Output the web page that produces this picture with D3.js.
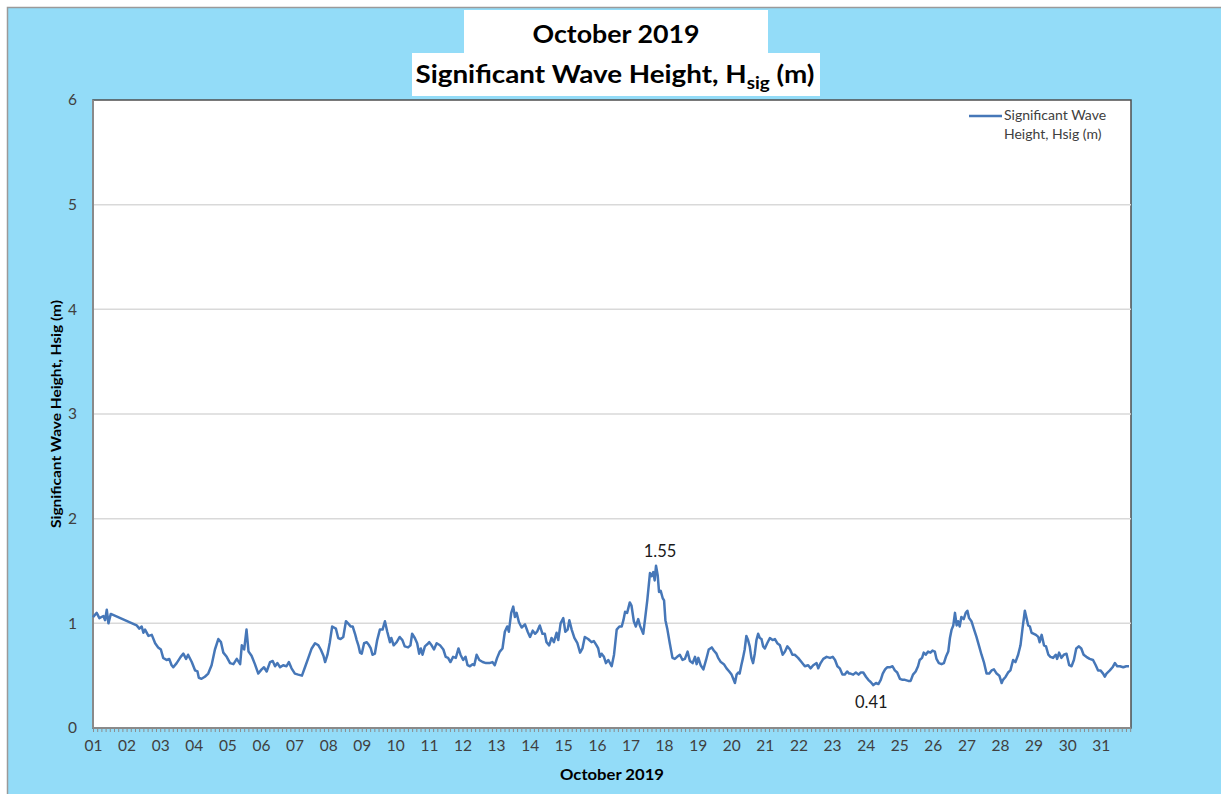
<!DOCTYPE html>
<html>
<head>
<meta charset="utf-8">
<script src="https://cdn.jsdelivr.net/npm/d3@7"></script>
<style>
  html, body { margin: 0; padding: 0; background: #ffffff; }
  svg { display: block; }
  text { font-family: Lato, "Open Sans", "Liberation Sans", sans-serif; }
</style>
</head>
<body>
<div id="chart"></div>
<script>
// ---- DATA ----
const chartTitle = "October 2019";
const chartSubtitle = "Significant Wave Height, H";
const seriesName = "Significant Wave Height, Hsig (m)";
const xAxisTitle = "October 2019";
const yAxisTitle = "Significant Wave Height, Hsig (m)";
const yTicks = [0, 1, 2, 3, 4, 5, 6];

// Time of each reading: days elapsed since 1 Oct 2019 00:00
const dayOffset = [
  0.00,0.11,0.19,0.31,0.36,0.41,0.46,0.53,1.30,1.38,1.45,1.50,1.55,1.65,1.75,1.85,1.94,
  2.02,2.09,2.19,2.27,2.34,2.39,2.49,2.61,2.69,2.77,2.83,2.94,3.04,3.11,3.15,3.23,3.33,
  3.43,3.53,3.63,3.73,3.81,3.88,3.98,4.08,4.18,4.28,4.38,4.43,4.50,4.57,4.63,4.72,4.82,
  4.92,5.02,5.09,5.17,5.27,5.35,5.42,5.49,5.57,5.66,5.76,5.83,5.91,6.01,6.11,6.22,6.31,
  6.41,6.51,6.61,6.71,6.78,6.86,6.91,6.98,7.05,7.12,7.23,7.30,7.37,7.45,7.53,7.62,
  7.67,7.73,7.80,7.85,7.90,7.95,8.00,8.07,8.15,8.22,8.27,8.32,8.39,8.46,8.54,8.62,8.69,
  8.76,8.84,8.88,8.95,9.04,9.13,9.21,9.28,9.38,9.45,9.50,9.58,9.65,9.71,9.76,9.81,9.88,
  9.95,10.01,10.08,10.15,10.23,10.33,10.43,10.50,10.57,10.64,10.72,10.80,10.88,10.94,
  11.02,11.09,11.15,11.22,11.30,11.35,11.42,11.50,11.60,11.70,11.80,11.89,11.96,12.03,
  12.11,12.19,12.26,12.33,12.38,12.45,12.51,12.56,12.61,12.68,12.76,12.86,12.94,13.01,
  13.09,13.16,13.22,13.30,13.38,13.45,13.50,13.58,13.65,13.72,13.80,13.85,13.92,14.00,
  14.06,14.13,14.18,14.25,14.33,14.42,14.50,14.57,14.64,14.74,14.84,14.91,14.99,15.04,
  15.09,15.14,15.21,15.27,15.34,15.44,15.51,15.59,15.67,15.74,15.79,15.84,15.90,15.98,
  16.03,16.10,16.16,16.23,16.28,16.33,16.38,16.43,16.50,16.58,16.63,16.68,16.72,16.76,
  16.81,16.85,16.90,16.96,17.00,17.04,17.10,17.17,17.25,17.32,17.39,17.47,17.55,17.62,
  17.70,17.77,17.85,17.92,17.97,18.02,18.09,18.17,18.25,18.33,18.42,18.48,18.56,18.61,
  18.69,18.78,18.86,18.94,19.01,19.06,19.11,19.16,19.21,19.25,19.30,19.35,19.40,19.45,
  19.50,19.55,19.60,19.65,19.70,19.75,19.80,19.85,19.90,19.95,20.00,20.07,20.15,20.23,
  20.30,20.37,20.45,20.53,20.60,20.67,20.75,20.82,20.89,20.99,21.09,21.19,21.29,21.36,
  21.44,21.54,21.59,21.66,21.74,21.84,21.94,22.02,22.09,22.16,22.23,22.31,22.38,22.45,
  22.51,22.55,22.63,22.71,22.79,22.85,22.93,23.01,23.08,23.15,23.23,23.31,23.38,23.45,
  23.51,23.58,23.64,23.72,23.80,23.87,23.94,24.02,24.10,24.17,24.27,24.34,24.41,24.49,
  24.56,24.61,24.68,24.73,24.79,24.86,24.93,24.99,25.06,25.11,25.18,25.26,25.33,25.39,
  25.46,25.51,25.56,25.61,25.66,25.71,25.75,25.80,25.85,25.92,25.98,26.03,26.08,26.15,
  26.22,26.30,26.38,26.45,26.52,26.60,26.68,26.75,26.82,26.90,26.98,27.05,27.09,27.17,
  27.24,27.31,27.39,27.46,27.54,27.61,27.67,27.74,27.79,27.84,27.89,27.94,28.01,28.07,
  28.14,28.18,28.24,28.31,28.37,28.44,28.50,28.58,28.66,28.70,28.76,28.83,28.90,28.98,
  29.06,29.13,29.20,29.27,29.35,29.42,29.49,29.57,29.67,29.77,29.85,29.92,29.99,30.07,
  30.12,30.17,30.27,30.35,30.42,30.49,30.57,30.67,30.76,30.84
];
// Significant wave height (m)
const hsig = [
  1.06,1.10,1.05,1.07,1.03,1.13,1.00,1.09,0.98,0.95,0.97,0.91,0.94,0.88,0.89,0.81,0.77,
  0.75,0.67,0.65,0.66,0.60,0.58,0.62,0.68,0.71,0.66,0.70,0.63,0.55,0.54,0.48,0.47,0.49,
  0.52,0.60,0.75,0.85,0.82,0.72,0.68,0.62,0.61,0.66,0.61,0.79,0.75,0.94,0.73,0.69,0.61,
  0.52,0.56,0.58,0.54,0.63,0.64,0.59,0.62,0.58,0.60,0.59,0.63,0.57,0.52,0.51,0.50,0.58,
  0.67,0.76,0.81,0.79,0.75,0.69,0.63,0.70,0.82,0.97,0.95,0.86,0.85,0.87,1.02,0.99,
  0.97,0.97,0.90,0.84,0.79,0.72,0.71,0.81,0.82,0.79,0.76,0.70,0.71,0.84,0.94,0.94,1.02,
  0.92,0.82,0.86,0.79,0.82,0.87,0.84,0.78,0.77,0.79,0.90,0.86,0.81,0.71,0.76,0.70,0.78,
  0.80,0.82,0.79,0.75,0.81,0.79,0.75,0.68,0.67,0.63,0.68,0.67,0.76,0.70,
  0.65,0.68,0.60,0.59,0.61,0.60,0.70,0.65,0.63,0.62,0.62,0.63,0.60,0.67,
  0.73,0.76,0.92,0.97,0.92,1.10,1.16,1.06,1.10,1.01,0.96,0.99,0.92,0.87,
  0.93,0.90,0.92,0.98,0.90,0.90,0.82,0.79,0.86,0.82,0.91,0.84,1.00,1.05,
  0.92,0.94,1.03,0.94,0.86,0.81,0.72,0.76,0.87,0.85,0.82,0.83,0.79,0.76,
  0.68,0.71,0.68,0.62,0.65,0.59,0.70,0.94,0.97,0.97,1.03,1.11,1.10,1.20,
  1.17,1.02,0.97,1.04,0.98,0.94,0.90,1.03,1.22,1.48,1.45,1.49,1.41,1.55,
  1.46,1.30,1.31,1.24,1.22,1.03,0.94,0.81,0.67,0.66,0.68,0.70,0.65,0.66,
  0.73,0.64,0.62,0.68,0.61,0.67,0.60,0.56,0.65,0.75,0.77,0.74,0.71,0.67,
  0.63,0.61,0.57,0.54,0.51,0.47,0.43,0.51,0.53,0.52,0.60,0.67,0.75,0.88,
  0.84,0.78,0.67,0.62,0.71,0.84,0.90,0.86,0.85,0.78,0.76,0.81,0.86,0.84,
  0.85,0.81,0.79,0.70,0.73,0.78,0.75,0.70,0.70,0.67,0.63,0.59,0.60,0.57,
  0.60,0.62,0.57,0.62,0.66,0.68,0.67,0.68,0.65,0.59,0.57,0.51,0.51,0.54,
  0.52,0.52,0.51,0.53,0.51,0.53,0.53,0.49,0.46,0.44,0.41,0.43,0.42,0.46,
  0.52,0.56,0.58,0.58,0.59,0.55,0.53,0.47,0.46,0.46,0.45,0.45,0.51,0.54,
  0.59,0.65,0.67,0.72,0.70,0.73,0.72,0.74,0.73,0.66,0.62,0.61,0.62,0.68,
  0.73,0.86,0.94,0.98,1.10,0.98,1.02,0.97,1.06,1.04,1.10,1.12,1.05,1.02,
  0.95,0.87,0.78,0.70,0.63,0.52,0.52,0.55,0.56,0.52,0.50,0.43,0.46,0.49,
  0.53,0.55,0.65,0.63,0.70,0.79,0.95,1.12,1.05,0.98,0.97,0.91,0.90,0.89,
  0.87,0.82,0.89,0.79,0.78,0.70,0.68,0.67,0.70,0.66,0.72,0.67,0.70,0.71,
  0.60,0.59,0.65,0.76,0.78,0.76,0.70,0.68,0.66,0.65,0.60,0.55,0.55,0.52,
  0.49,0.52,0.55,0.58,0.62,0.59,0.59,0.58,0.59,0.59
];
// Annotated extremes
const annotations = [
  { label: "1.55", day: 16.76, kind: "max" },
  { label: "0.41", day: 23.23, kind: "min" }
];
const monthStart = Date.UTC(2019, 9, 1);
const axisEndDay = 30.9;

// ---- LAYOUT ----
const W = 1221, H = 794;
const M = { left: 93, right: 1131, top: 100, bottom: 728 };
const DAY = 86400000;

const svg = d3.select("#chart").append("svg").attr("width", W).attr("height", H);

// outer background
svg.append("rect").attr("x", 0).attr("y", 0).attr("width", W).attr("height", H).attr("fill", "#ffffff");
svg.append("rect").attr("x", 7.5).attr("y", 7.5).attr("width", W).attr("height", H)
  .attr("fill", "#93dcf8").attr("stroke", "#9a9a9a").attr("stroke-width", 1.5);

// plot area
svg.append("rect").attr("x", M.left).attr("y", M.top)
  .attr("width", M.right - M.left).attr("height", M.bottom - M.top)
  .attr("fill", "#ffffff").attr("stroke", "#4d4d4d").attr("stroke-width", 1.5);

const data = dayOffset.map((d, i) => ({ t: new Date(monthStart + d * DAY), v: hsig[i] }));

const x = d3.scaleUtc()
  .domain([new Date(monthStart), new Date(monthStart + axisEndDay * DAY)])
  .range([M.left, M.right]);
const y = d3.scaleLinear().domain([0, 6]).range([M.bottom, M.top]);

// gridlines
svg.append("g").selectAll("line").data(yTicks.filter(t => t > 0 && t < 6)).join("line")
  .attr("x1", M.left).attr("x2", M.right)
  .attr("y1", d => y(d)).attr("y2", d => y(d))
  .attr("stroke", "#d9d9d9").attr("stroke-width", 1.5);

// minor ticks on x axis (every 3 hours)
const xMinor = d3.axisBottom(x).ticks(d3.utcHour.every(3)).tickSize(4).tickFormat("");
const gMinor = svg.append("g").attr("transform", `translate(0,${M.bottom})`).call(xMinor);
gMinor.select(".domain").remove();
gMinor.selectAll(".tick line").attr("stroke", "#8c8c8c").attr("stroke-width", 1);

// x axis labels
const xAxis = d3.axisBottom(x).ticks(d3.utcDay.every(1)).tickSize(0).tickPadding(12)
  .tickFormat(d3.utcFormat("%d"));
const gx = svg.append("g").attr("transform", `translate(0,${M.bottom})`).call(xAxis);
gx.select(".domain").remove();
gx.selectAll("text").attr("font-family", "Lato, sans-serif").attr("font-size", 15.5)
  .attr("fill", "#404040");

// y axis
const yAxis = d3.axisLeft(y).tickValues(yTicks).tickSize(0).tickPadding(16)
  .tickFormat(d3.format("d"));
const gy = svg.append("g").attr("transform", `translate(${M.left},0)`).call(yAxis);
gy.select(".domain").remove();
gy.selectAll("text").attr("font-family", "Lato, sans-serif").attr("font-size", 15.5)
  .attr("fill", "#404040");

// axis lines
svg.append("line").attr("x1", M.left).attr("x2", M.left).attr("y1", M.top).attr("y2", M.bottom)
  .attr("stroke", "#8a8a8a").attr("stroke-width", 2);
svg.append("line").attr("x1", M.left).attr("x2", M.right).attr("y1", M.bottom).attr("y2", M.bottom)
  .attr("stroke", "#8a8a8a").attr("stroke-width", 2);

// series line
const line = d3.line().x(d => x(d.t)).y(d => y(d.v));
svg.append("path").datum(data).attr("d", line)
  .attr("fill", "none").attr("stroke", "#4677b8").attr("stroke-width", 2.5)
  .attr("stroke-linejoin", "round");

// annotations
annotations.forEach(a => {
  const idx = dayOffset.indexOf(a.day);
  const px = x(new Date(monthStart + a.day * DAY));
  const py = y(hsig[idx]);
  svg.append("text").attr("x", px + (a.kind === "max" ? 4 : -2))
    .attr("y", a.kind === "max" ? py - 9 : py + 23)
    .attr("text-anchor", "middle").attr("font-size", 16.5).attr("fill", "#1a1a1a")
    .text(a.label);
});

// title boxes
svg.append("rect").attr("x", 464).attr("y", 10).attr("width", 304).attr("height", 44).attr("fill", "#ffffff");
svg.append("rect").attr("x", 412).attr("y", 53).attr("width", 408).attr("height", 43).attr("fill", "#ffffff");
svg.append("text").attr("x", 616).attr("y", 43).attr("text-anchor", "middle")
  .attr("font-size", 25).attr("font-weight", "bold").attr("fill", "#000")
  .attr("textLength", 167).attr("lengthAdjust", "spacingAndGlyphs")
  .text(chartTitle);
const t2 = svg.append("text").attr("x", 615).attr("y", 83).attr("text-anchor", "middle")
  .attr("font-size", 25).attr("font-weight", "bold").attr("fill", "#000")
  .attr("textLength", 399).attr("lengthAdjust", "spacingAndGlyphs");
t2.append("tspan").text(chartSubtitle);
t2.append("tspan").attr("font-size", 17).attr("dy", 6).text("sig");
t2.append("tspan").attr("dy", -6).text(" (m)");

// axis titles
svg.append("text").attr("x", 612).attr("y", 780).attr("text-anchor", "middle")
  .attr("font-size", 15).attr("font-weight", "bold").attr("fill", "#000")
  .attr("textLength", 104).attr("lengthAdjust", "spacingAndGlyphs")
  .text(xAxisTitle);
svg.append("text").attr("transform", `translate(61,414) rotate(-90)`).attr("text-anchor", "middle")
  .attr("font-size", 13.5).attr("font-weight", "bold").attr("fill", "#000")
  .attr("textLength", 228).attr("lengthAdjust", "spacingAndGlyphs")
  .text(yAxisTitle);

// legend
svg.append("line").attr("x1", 969).attr("x2", 1002).attr("y1", 116).attr("y2", 116)
  .attr("stroke", "#4677b8").attr("stroke-width", 2.5);
const lg = svg.append("text").attr("font-size", 14).attr("fill", "#404040");
lg.append("tspan").attr("x", 1004).attr("y", 120).text("Significant Wave");
lg.append("tspan").attr("x", 1004).attr("y", 139).text("Height, Hsig (m)");
</script>
</body>
</html>
